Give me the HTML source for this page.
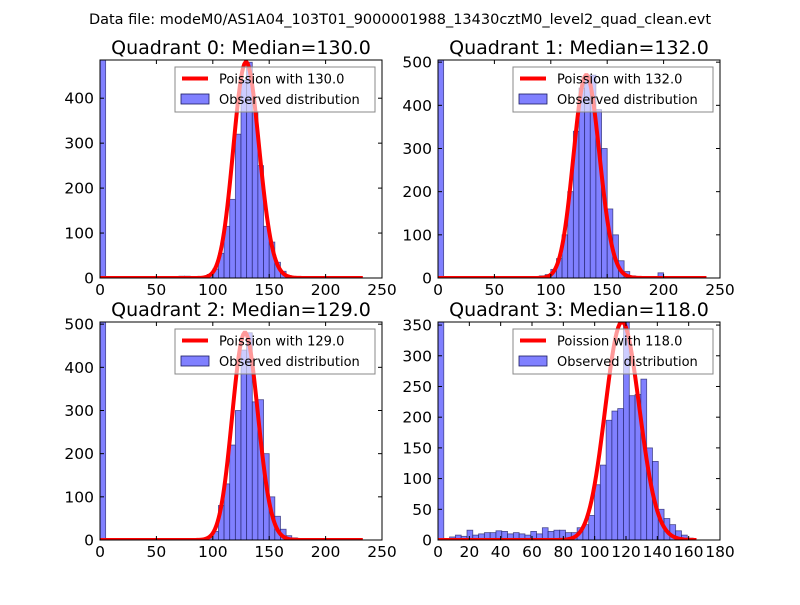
<!DOCTYPE html>
<html><head><meta charset="utf-8"><style>
body{margin:0;background:#fff;}
svg text{font-family:"DejaVu Sans","Liberation Sans",sans-serif;}
</style></head><body>
<svg id="fig" width="800" height="600" xmlns="http://www.w3.org/2000/svg">
<rect width="800" height="600" fill="#fff"/>
<text x="400" y="24" font-size="14.5" text-anchor="middle">Data file: modeM0/AS1A04_103T01_9000001988_13430cztM0_level2_quad_clean.evt</text>
</svg>
<script>
// Quadrant 0 (bin width 5)
const q0Starts=[0,70,75,90,95,100,105,110,115,120,125,130,135,140,145,150,155,160,165,170,190,205,220];
const q0Counts=[485,4,4,3,8,20,55,115,175,320,440,480,370,250,115,80,35,15,5,2,3,3,3];
// Quadrant 1
const q1Starts=[0,70,90,95,100,105,110,115,120,125,130,135,140,145,150,155,160,165,170,195,215];
const q1Counts=[520,3,5,8,20,45,100,200,340,440,470,470,390,300,160,100,40,15,5,12,3];
// Quadrant 2
const q2Starts=[0,75,80,95,100,105,110,115,120,125,130,135,140,145,150,155,160,165,170,180,190,200];
const q2Counts=[505,3,3,5,20,80,130,220,300,440,480,320,325,200,100,55,25,10,5,3,3,3];
// Quadrant 3 (bin width 3.7)
const q3Counts=[370,2,5,8,6,16,8,10,12,12,15,14,10,12,10,8,14,10,20,14,16,16,12,12,20,25,40,90,122,195,210,214,355,235,237,262,150,128,50,35,25,15,8,3];
const medians=[130,132,129,118];
const curvePeaks=[480,470,480,355];
const curveEnds=[233,238,233,165];
const xTicksA=[0,50,100,150,200,250];
const xTicksB=[0,20,40,60,80,100,120,140,160,180];
const yTicks=[[0,100,200,300,400],[0,100,200,300,400,500],[0,100,200,300,400,500],[0,50,100,150,200,250,300,350]];

const NS="http://www.w3.org/2000/svg";
const svg=document.getElementById('fig');
function mk(tag,attrs,parent){const e=document.createElementNS(NS,tag);for(const k in attrs)e.setAttribute(k,attrs[k]);(parent||svg).appendChild(e);return e;}
function lgam(n){
 if(n<2)return 0;return n*Math.log(n)-n+0.5*Math.log(2*Math.PI*n)+1/(12*n);}
const panels=[
 {x0:100,y0:60,xmax:250,ymax:485,starts:q0Starts,counts:q0Counts,w:5,xt:xTicksA},
 {x0:438,y0:60,xmax:250,ymax:505,starts:q1Starts,counts:q1Counts,w:5,xt:xTicksA},
 {x0:100,y0:322,xmax:250,ymax:505,starts:q2Starts,counts:q2Counts,w:5,xt:xTicksA},
 {x0:438,y0:322,xmax:180,ymax:355,starts:q3Counts.map((c,i)=>i*3.7),counts:q3Counts,w:3.7,xt:xTicksB}
];
const W=282,H=218;
panels.forEach((p,pi)=>{
 const g=mk('g',{});
 
 
 const sx=v=>p.x0+v/p.xmax*W, sy=v=>p.y0+H-v/p.ymax*H;
 const cp=mk('clipPath',{id:'cp'+pi},g);mk('rect',{x:p.x0,y:p.y0,width:W,height:H},cp);
 const bars=mk('g',{'clip-path':'url(#cp'+pi+')'},g);
 p.counts.forEach((c,i)=>{
  const s=p.starts[i];
  const r=mk('rect',{x:sx(s),y:sy(c),width:sx(s+p.w)-sx(s),height:sy(0)-sy(c),fill:'#8080ff',stroke:'#1a1a60','stroke-width':0.8,'stroke-opacity':0.7},bars);
  
  
 });
 const lam=medians[pi];const pk=Math.exp(lam*Math.log(lam)-lam-lgam(lam));
 let d='';
 for(let k=0;k<=curveEnds[pi];k++){const pv=Math.exp(k*(k>0?Math.log(lam):0)-lam-lgam(k))/pk*curvePeaks[pi];d+=(k?'L':'M')+sx(k).toFixed(2)+' '+sy(pv).toFixed(2);}
 const cv=mk('path',{d:d,fill:'none',stroke:'#ff0000','stroke-width':4,'clip-path':'url(#cp'+pi+')'},g);
 
 
 const fr=mk('rect',{x:p.x0,y:p.y0,width:W,height:H,fill:'none',stroke:'#000','stroke-width':1},g);
 
 
 p.xt.forEach(t=>{const x=sx(t);
  mk('line',{x1:x,x2:x,y1:p.y0+H,y2:p.y0+H-4,stroke:'#000'},g);
  mk('line',{x1:x,x2:x,y1:p.y0,y2:p.y0+4,stroke:'#000'},g);
  const tx=mk('text',{x:x,y:p.y0+H+17,'font-size':15.5,'text-anchor':'middle'},g);tx.textContent=t;
  
  
 });
 yTicks[pi].forEach(t=>{const y=sy(t);
  mk('line',{x1:p.x0,x2:p.x0+4,y1:y,y2:y,stroke:'#000'},g);
  mk('line',{x1:p.x0+W,x2:p.x0+W-4,y1:y,y2:y,stroke:'#000'},g);
  const tx=mk('text',{x:p.x0-6,y:y+5.5,'font-size':15.5,'text-anchor':'end'},g);tx.textContent=t;
  
  
 });
 const ti=mk('text',{x:p.x0+W/2,y:p.y0-6,'font-size':19,'text-anchor':'middle'},g);
 ti.textContent='Quadrant '+pi+': Median='+medians[pi].toFixed(1);
 
 
 const lg=mk('g',{},g);
 
 
 const lx=p.x0+75,ly=p.y0+7;
 mk('rect',{x:lx,y:ly,width:200,height:45,fill:'#fff','fill-opacity':0.6,stroke:'#888','stroke-width':1},lg);
 mk('line',{x1:lx+7,x2:lx+33,y1:ly+11.5,y2:ly+11.5,stroke:'#ff0000','stroke-width':4},lg);
 const t1=mk('text',{x:lx+44,y:ly+16.5,'font-size':13},lg);t1.textContent='Poission with '+medians[pi].toFixed(1);
 
 
 mk('rect',{x:lx+6,y:ly+27,width:28,height:10,fill:'#8080ff',stroke:'#1a1a60','stroke-width':0.8},lg);
 const t2=mk('text',{x:lx+44,y:ly+37,'font-size':13},lg);t2.textContent='Observed distribution';
 
 
});
</script>
</body></html>
